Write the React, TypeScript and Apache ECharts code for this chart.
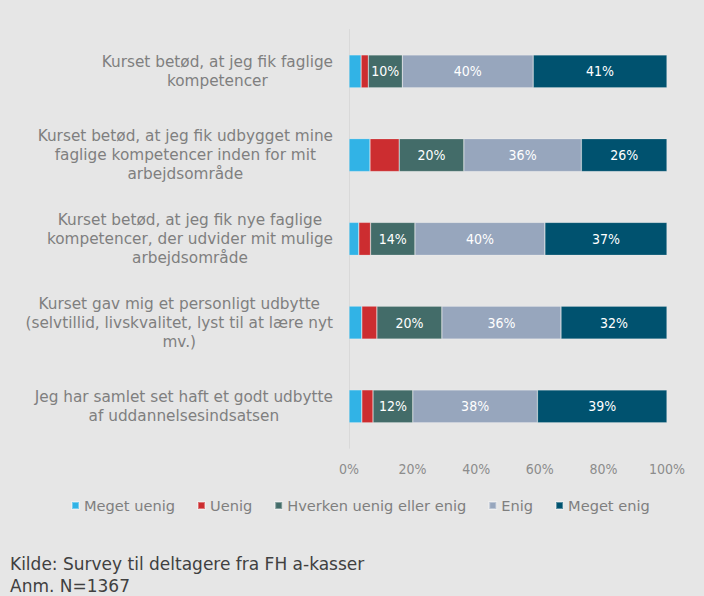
import React, { useEffect, useRef } from "react";
import * as echarts from "echarts";

const categories = [
  "Kurset betød, at jeg fik faglige\nkompetencer",
  "Kurset betød, at jeg fik udbygget mine\nfaglige kompetencer inden for mit\narbejdsområde",
  "Kurset betød, at jeg fik nye faglige\nkompetencer, der udvider mit mulige\narbejdsområde",
  "Kurset gav mig et personligt udbytte\n(selvtillid, livskvalitet, lyst til at lære nyt\nmv.)",
  "Jeg har samlet set haft et godt udbytte\naf uddannelsesindsatsen",
];

const seriesNames = ["Meget uenig", "Uenig", "Hverken uenig eller enig", "Enig", "Meget enig"];
const seriesColors = ["#31b3e6", "#cc2d30", "#436c69", "#97a6bd", "#00526f"];

// Raw shares (percent) per statement; the chart is a 100% stacked bar (normalised)
const megetUenig = [3.7, 6.4, 3.0, 3.9, 3.9];
const uenig = [2.2, 8.9, 3.6, 4.6, 3.4];
const hverken = [10.4, 19.7, 13.6, 19.8, 12.1];
const enig = [40.0, 35.8, 39.8, 36.3, 37.9];
const megetEnig = [40.9, 26.1, 37.4, 32.3, 39.4];

const showLabel = [false, false, true, true, true];
const xTicks = [0, 20, 40, 60, 80, 100];

const sourceLines = ["Kilde: Survey til deltagere fra FH a-kasser", "Anm. N=1367"];

const FONT_C = "'DejaVu Sans Condensed', 'DejaVu Sans', sans-serif";
const FONT = "'DejaVu Sans', sans-serif";

export default function App() {
  const ref = useRef<HTMLDivElement>(null);
  useEffect(() => {
    document.body.style.margin = "0";
    const chart = echarts.init(ref.current!, undefined, { renderer: "svg" });
    const raw = [megetUenig, uenig, hverken, enig, megetEnig];
    const totals = categories.map((_, i) => raw.reduce((s, arr) => s + arr[i], 0));
    const series = raw.map((arr, si) => ({
      name: seriesNames[si],
      type: "bar",
      stack: "total",
      barWidth: 33,
      itemStyle: { color: seriesColors[si], borderColor: "rgba(255,255,255,0.35)", borderWidth: 0.6 },
      label: {
        show: showLabel[si],
        position: "inside",
        color: "#ffffff",
        fontFamily: FONT_C,
        fontSize: 14,
        formatter: (p: any) => Math.round(arr[p.dataIndex]) + "%",
      },
      data: arr.map((v, i) => (v / totals[i]) * 100),
    }));
    chart.setOption({
      animation: false,
      backgroundColor: "#e6e6e6",
      textStyle: { fontFamily: FONT },
      grid: { left: 349, right: 37, top: 29.5, bottom: 147.8, containLabel: false },
      legend: {
        data: seriesNames,
        left: 71,
        top: 498,
        padding: 0,
        icon: "rect",
        itemWidth: 7,
        itemHeight: 7,
        itemGap: 22,
        textStyle: { color: "#7f7f7f", fontSize: 14.6, fontFamily: FONT },
        selectedMode: false,
      },
      xAxis: {
        type: "value",
        min: 0,
        max: 100,
        interval: 20,
        axisLine: { show: false },
        axisTick: { show: false },
        splitLine: { show: false },
        axisLabel: {
          color: "#8c8c8c",
          fontSize: 14,
          fontFamily: FONT_C,
          margin: 14,
          formatter: (v: number) => (xTicks.includes(v) ? v + "%" : ""),
        },
      },
      yAxis: {
        type: "category",
        inverse: true,
        data: categories,
        axisLine: { show: true, lineStyle: { color: "#d9d9d9", width: 1 } },
        axisTick: { show: false },
        axisLabel: {
          margin: 16,
          color: "#7f7f7f",
          fontSize: 15.3,
          lineHeight: 19,
          fontFamily: FONT,
          formatter: (v: string) =>
            v
              .split("\n")
              .map((l) => "{c|" + l + "}")
              .join("\n"),
          rich: {
            c: { align: "center", color: "#7f7f7f", fontSize: 15.3, lineHeight: 19, fontFamily: FONT },
          },
        },
      },
      graphic: sourceLines.map((t, i) => ({
        type: "text",
        left: 10,
        top: 555 + i * 22,
        style: { text: t, fill: "#404040", fontSize: 17, fontFamily: FONT },
      })),
      series,
    });
    return () => chart.dispose();
  }, []);
  return <div ref={ref} style={{ position: "absolute", left: 0, top: 0, width: 704, height: 596 }} />;
}
